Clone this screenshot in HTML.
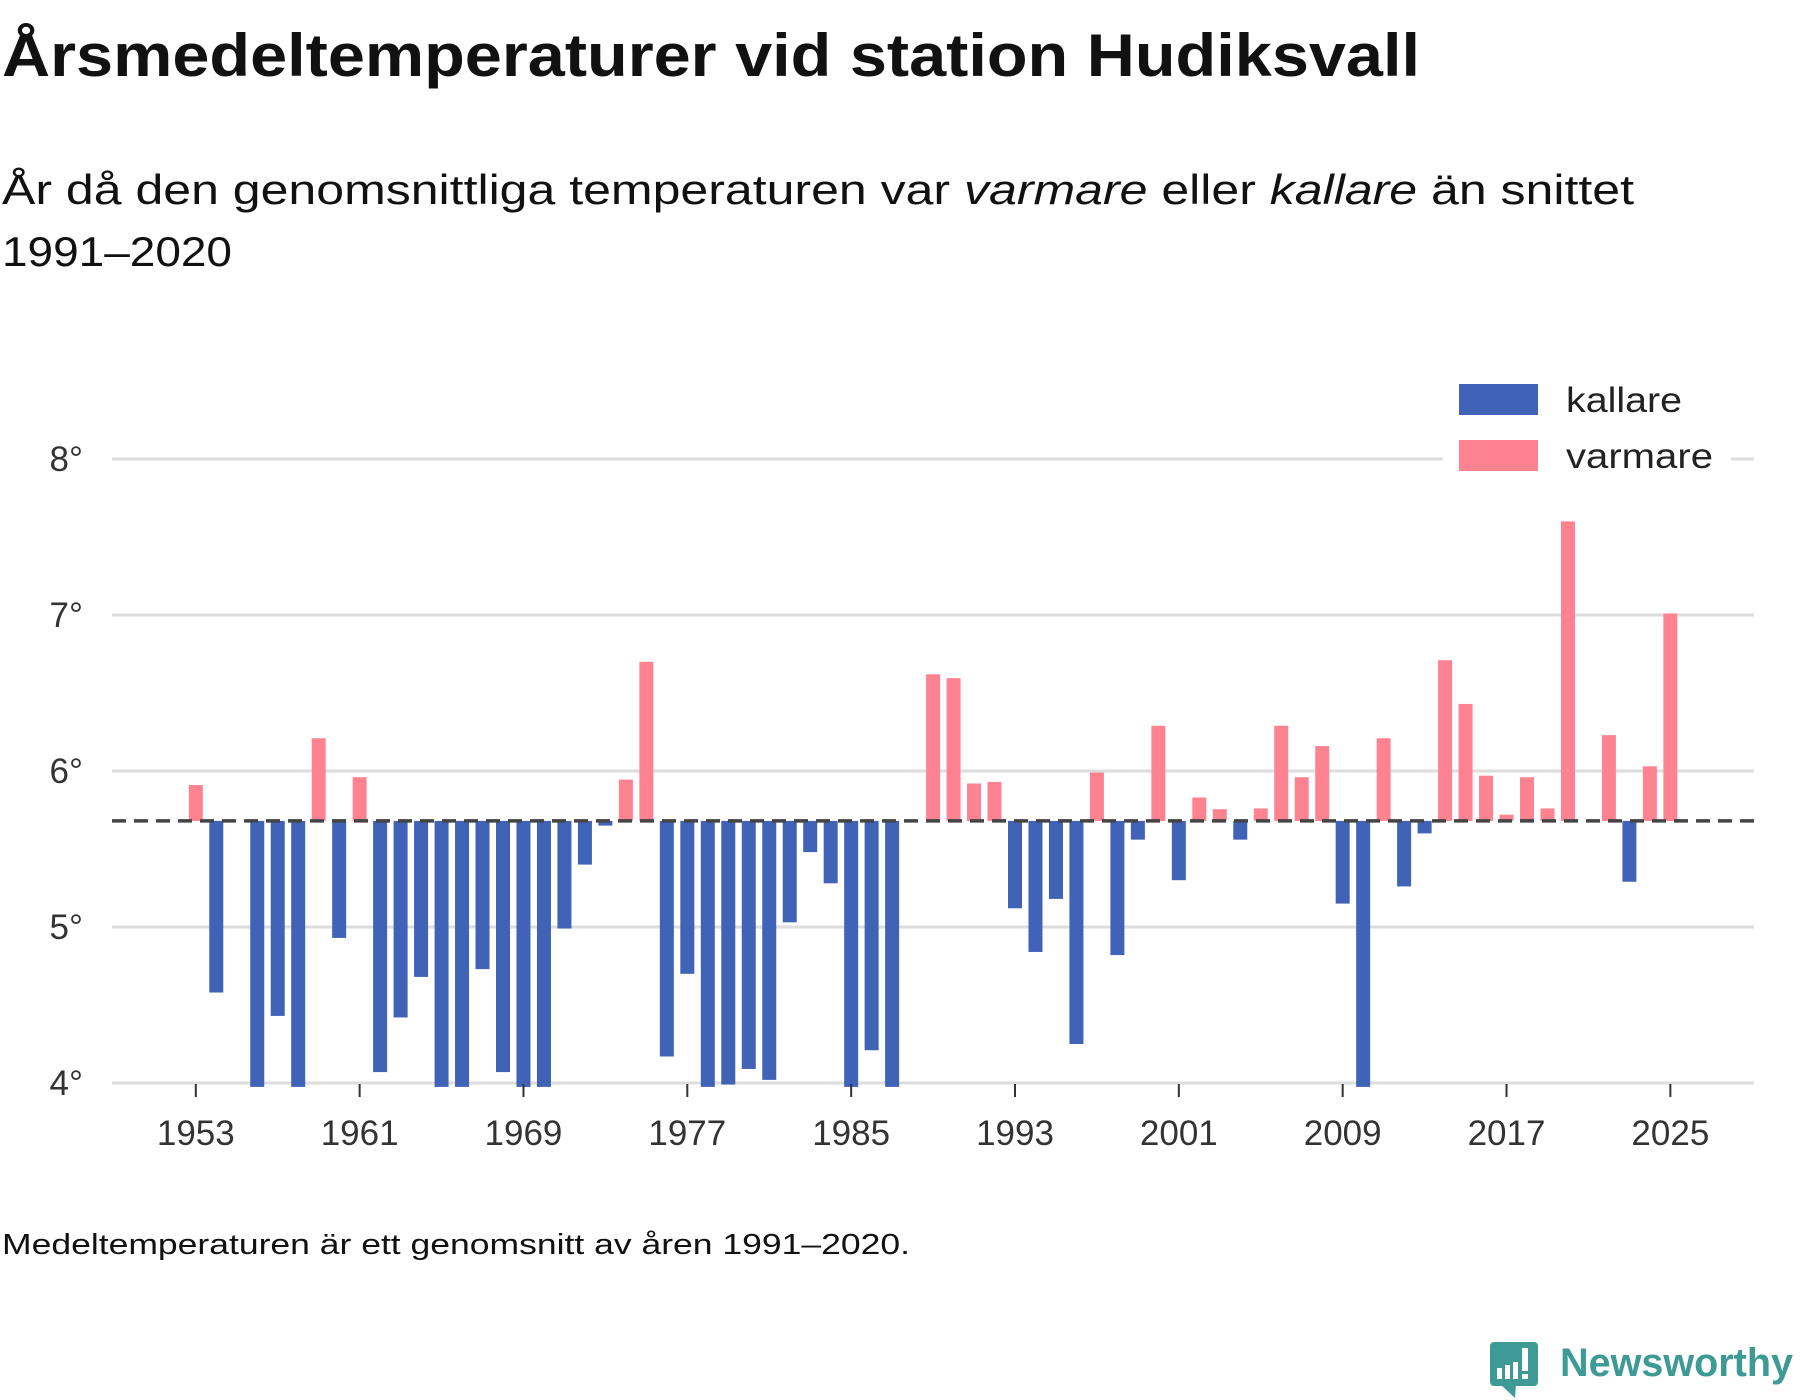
<!DOCTYPE html>
<html><head><meta charset="utf-8"><style>
html,body{margin:0;padding:0;background:#fff;}
svg{display:block;font-family:"Liberation Sans",sans-serif;}
</style></head><body>
<svg id="chart" width="1800" height="1400" viewBox="0 0 1800 1400" xmlns="http://www.w3.org/2000/svg">
<text x="2" y="76" font-size="60" font-weight="bold" fill="#111" textLength="1418" lengthAdjust="spacingAndGlyphs">Årsmedeltemperaturer vid station Hudiksvall</text>
<text x="2" y="204" font-size="42" fill="#111" textLength="1632" lengthAdjust="spacingAndGlyphs">År då den genomsnittliga temperaturen var <tspan font-style="italic">varmare</tspan> eller <tspan font-style="italic">kallare</tspan> än snittet</text>
<text x="2" y="266" font-size="42" fill="#111" textLength="230" lengthAdjust="spacingAndGlyphs">1991–2020</text>
<g id="grid"></g>
<g id="bars"></g>
<g id="axes"></g>
<g>
<rect x="1443" y="372" width="288" height="108" fill="#fff"/>
<rect x="1459" y="384" width="79" height="31" fill="#4063b8"/>
<text x="1566" y="412" font-size="35" fill="#222" textLength="116" lengthAdjust="spacingAndGlyphs">kallare</text>
<rect x="1459" y="440" width="79" height="31" fill="#ff8290"/>
<text x="1566" y="468" font-size="35" fill="#222" textLength="147" lengthAdjust="spacingAndGlyphs">varmare</text>
</g>
<text x="2" y="1254" font-size="29" fill="#111" textLength="908" lengthAdjust="spacingAndGlyphs">Medeltemperaturen är ett genomsnitt av åren 1991–2020.</text>
<g>
<rect x="1490" y="1342" width="48" height="44" rx="4" fill="#3d9a94"/>
<polygon points="1500,1384 1516,1384 1515,1398" fill="#3d9a94"/>
<rect x="1497" y="1368" width="5" height="11" fill="#fff"/>
<rect x="1505" y="1365" width="5" height="14" fill="#fff"/>
<rect x="1513" y="1362" width="5" height="17" fill="#fff"/>
<rect x="1522" y="1348" width="6" height="23" fill="#fff"/>
<rect x="1522" y="1374" width="6" height="5" fill="#fff"/>
<text x="1560" y="1376" font-size="40" font-weight="bold" fill="#3d9a94" textLength="233" lengthAdjust="spacingAndGlyphs">Newsworthy</text>
</g>
</svg>
<script>
const years = [1953,1954,1956,1957,1958,1959,1960,1961,1962,1963,1964,1965,1966,1967,1968,1969,1970,1971,1972,1973,1974,1975,1976,1977,1978,1979,1980,1981,1982,1983,1984,1985,1986,1987,1989,1990,1991,1992,1993,1994,1995,1996,1997,1998,1999,2000,2001,2002,2003,2004,2005,2006,2007,2008,2009,2010,2011,2012,2013,2014,2015,2016,2017,2018,2019,2020,2022,2023,2024,2025];
const temps = [5.91,4.58,3.9,4.43,3.9,6.21,4.93,5.96,4.07,4.42,4.68,3.9,3.9,4.73,4.07,3.9,3.9,4.99,5.40,5.65,5.945,6.70,4.17,4.70,3.9,3.99,4.09,4.02,5.03,5.48,5.28,3.9,4.21,3.9,6.62,6.595,5.92,5.93,5.12,4.84,5.18,4.25,5.99,4.82,5.56,6.29,5.30,5.83,5.755,5.56,5.76,6.29,5.96,6.16,5.15,3.9,6.21,5.26,5.60,6.71,6.43,5.97,5.72,5.96,5.76,7.60,6.23,5.29,6.03,7.01];
const baselineValue = [5.68];
const yTicks = [4,5,6,7,8];
const xTicks = [1953,1961,1969,1977,1985,1993,2001,2009,2017,2025];

const NS = "http://www.w3.org/2000/svg";
function x(yr){ return 195.8 + (yr-1953)*20.48; }
function y(v){ return 1083 - (v-4)*156; }
const yClip = y(3.975);
function mk(tag, attrs, parent){ const e=document.createElementNS(NS,tag); for(const k in attrs) e.setAttribute(k,attrs[k]); parent.appendChild(e); return e; }
const grid=document.getElementById('grid'), bars=document.getElementById('bars'), axes=document.getElementById('axes');
yTicks.forEach(t=>{
  const l=mk('line',{x1:112,x2:1754,y1:y(t),y2:y(t),stroke:'#ddd','stroke-width':3},grid);
  
  
  const tx=mk('text',{x:83,y:y(t)+12,'text-anchor':'end','font-size':35,fill:'#333'},axes);
  tx.textContent=t+'°';
  
  
});
xTicks.forEach(t=>{
  const l=mk('line',{x1:x(t),x2:x(t),y1:1084,y2:1097,stroke:'#333','stroke-width':2},axes);
  
  
  const tx=mk('text',{x:x(t),y:1145,'text-anchor':'middle','font-size':35,fill:'#333'},axes);
  tx.textContent=t;
  
  
});
const base=baselineValue[0];
years.forEach((yr,i)=>{
  const v=temps[i];
  let top, bot, col;
  if(v>=base){ top=y(v); bot=y(base); col='#ff8290'; }
  else { top=y(base); bot=Math.min(y(v), yClip); col='#4063b8'; }
  const r=mk('rect',{x:x(yr)-7,y:top,width:14,height:Math.max(0,bot-top),fill:col},bars);
  
  
});
const d=mk('line',{x1:112,x2:1754,y1:y(base),y2:y(base),stroke:'#444','stroke-width':3.5,'stroke-dasharray':'14 8'},bars);


</script>
</body></html>
